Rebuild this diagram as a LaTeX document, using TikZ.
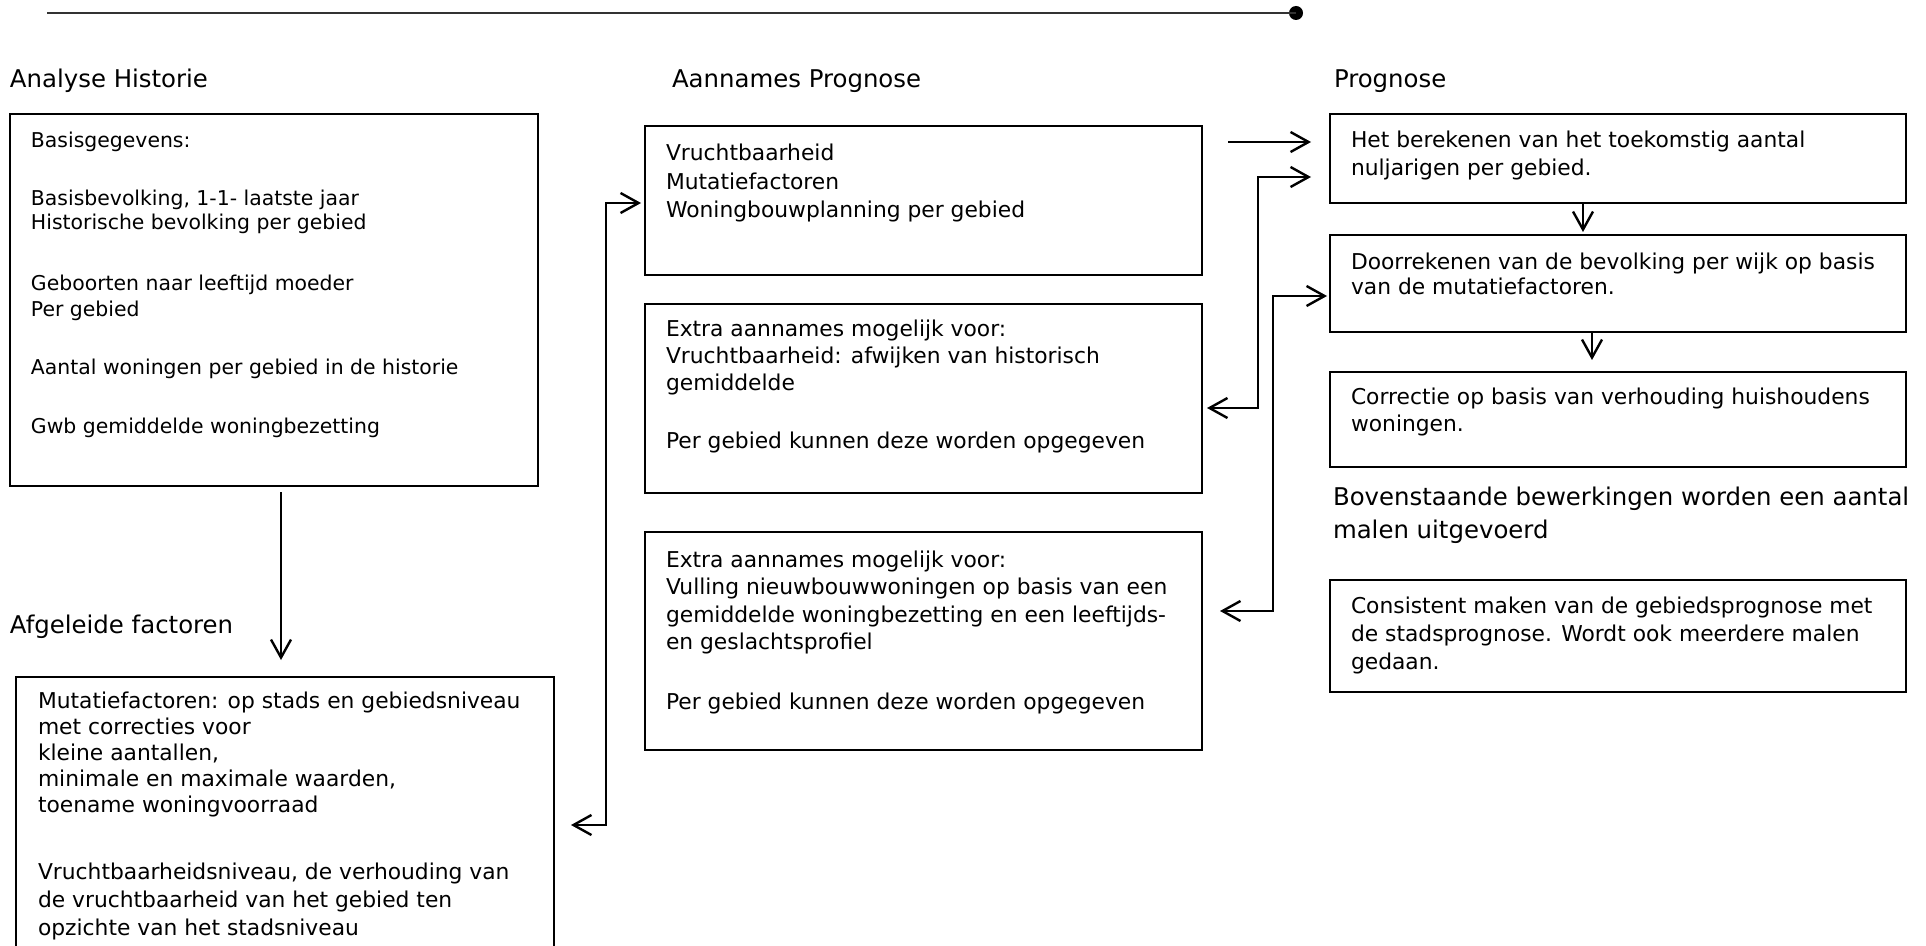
\documentclass[tikz,border=0pt]{standalone}
\usepackage{fontspec}
\setmainfont{DejaVu Sans}
\usetikzlibrary{arrows.meta}
\tikzset{
  boxst/.style={draw, line width=1pt, anchor=north west, inner sep=0pt, outer sep=0pt},
  txt/.style={anchor=north west, inner sep=0pt, outer sep=0pt, align=left, font=\fontsize{10.9pt}{#1}\selectfont},
  smalltxt/.style={anchor=north west, inner sep=0pt, outer sep=0pt, align=left, font=\fontsize{10.2pt}{#1}\selectfont},
  title/.style={anchor=base west, inner sep=0pt, outer sep=0pt, font=\fontsize{12.2pt}{14pt}\selectfont},
  bigtxt/.style={anchor=north west, inner sep=0pt, outer sep=0pt, align=left, font=\fontsize{12.2pt}{16.5pt}\selectfont},
  arr/.style={line width=1.2pt, -{Straight Barb[length=9pt,width=10pt]}},
  arrboth/.style={line width=1.2pt, {Straight Barb[length=9pt,width=10pt]}-{Straight Barb[length=9pt,width=10pt]}},
  enddot/.style={circle, fill=black, inner sep=0pt, minimum size=7pt},
}
\begin{document}
\begin{tikzpicture}[x=0.5pt,y=-0.5pt]
\useasboundingbox (0,0) rectangle (1926,946);
\clip (0,0) rectangle (1926,946);

% top line
\coordinate (tl0) at (47,13);
\node[enddot] (tl1) at (1296,13) {};
\draw[line width=0.8pt, black!80] (tl0) -- (tl1.center);

% titles
\node[title] (h1) at (10,88) {Analyse Historie};
\node[title] (h2) at (672,88) {Aannames Prognose};
\node[title] (h3) at (1334,88) {Prognose};
\node[title] (h4) at (10,633) {Afgeleide factoren};

% boxes
\node[boxst, minimum width=264pt, minimum height=186pt] (b1) at (10,114) {};
\node[boxst, minimum width=269pt, minimum height=165pt] (b4) at (16,677) {};
\node[boxst, minimum width=278.5pt, minimum height=74.5pt] (b2) at (645,126) {};
\node[boxst, minimum width=278.5pt, minimum height=94.5pt] (b3) at (645,304) {};
\node[boxst, minimum width=278.5pt, minimum height=109pt] (b5) at (645,532) {};
\node[boxst, minimum width=288pt, minimum height=44.5pt] (b6) at (1330,114) {};
\node[boxst, minimum width=288pt, minimum height=48.5pt] (b7) at (1330,235) {};
\node[boxst, minimum width=288pt, minimum height=47.5pt] (b8) at (1330,372) {};
\node[boxst, minimum width=288pt, minimum height=56pt] (b9) at (1330,580) {};

% texts
\node[smalltxt=12.5pt] (t1) at (31,130) {\rule{0pt}{9pt}Basisgegevens:\\[16pt]Basisbevolking, 1-1- laatste jaar\\Historische bevolking per gebied\\[18pt]Geboorten naar leeftijd moeder\\Per gebied\\[17pt]Aantal woningen per gebied in de historie\\[16.5pt]Gwb gemiddelde woningbezetting};
\node[txt=13pt] (t4) at (38,690) {\rule{0pt}{9pt}Mutatiefactoren: op stads en gebiedsniveau\\met correcties voor\\kleine aantallen,\\minimale en maximale waarden,\\toename woningvoorraad\\[20.5pt]Vruchtbaarheidsniveau, de verhouding van\\[1.2pt]de vruchtbaarheid van het gebied ten\\[1.2pt]opzichte van het stadsniveau};
\node[txt=14.25pt] (t2) at (666,143) {\rule{0pt}{9pt}Vruchtbaarheid\\Mutatiefactoren\\Woningbouwplanning per gebied};
\node[txt=13.75pt] (t3) at (666,318) {\rule{0pt}{9pt}Extra aannames mogelijk voor:\\Vruchtbaarheid: afwijken van historisch\\gemiddelde\\[15pt]Per gebied kunnen deze worden opgegeven};
\node[txt=13.75pt] (t5) at (666,549) {\rule{0pt}{9pt}Extra aannames mogelijk voor:\\Vulling nieuwbouwwoningen op basis van een\\gemiddelde woningbezetting en een leeftijds-\\en geslachtsprofiel\\[16pt]Per gebied kunnen deze worden opgegeven};
\node[txt=14pt] (t6) at (1351,130) {\rule{0pt}{9pt}Het berekenen van het toekomstig aantal\\nuljarigen per gebied.};
\node[txt=12.5pt] (t7) at (1351,252) {\rule{0pt}{9pt}Doorrekenen van de bevolking per wijk op basis\\van de mutatiefactoren.};
\node[txt=13.5pt] (t8) at (1351,386) {\rule{0pt}{9pt}Correctie op basis van verhouding huishoudens\\woningen.};
\node[bigtxt] (t10) at (1333,483) {\rule{0pt}{11pt}Bovenstaande bewerkingen worden een aantal\\malen uitgevoerd};
\node[txt=14pt] (t9) at (1351,595) {\rule{0pt}{9pt}Consistent maken van de gebiedsprognose met\\de stadsprognose. Wordt ook meerdere malen\\gedaan.};

% connectors
\coordinate (a1s) at (281,492);
\coordinate (a1e) at (281,660);
\draw[arr] (a1s) -- (a1e);

\coordinate (c1a) at (571,825);
\coordinate (c1b) at (641,203);
\draw[arrboth] (c1a) -- (606,825) |- (c1b);

\coordinate (a2s) at (1228,142);
\coordinate (a2e) at (1311,142);
\draw[arr] (a2s) -- (a2e);

\coordinate (c2a) at (1207,408);
\coordinate (c2b) at (1311,177);
\draw[arrboth] (c2a) -- (1258,408) |- (c2b);

\coordinate (c3a) at (1220,611);
\coordinate (c3b) at (1327,296);
\draw[arrboth] (c3a) -- (1273,611) |- (c3b);

\coordinate (a3e) at (1583,232);
\draw[arr] (b6.south -| a3e) -- (a3e);
\coordinate (a4e) at (1592,360);
\draw[arr] (b7.south -| a4e) -- (a4e);
\end{tikzpicture}
\end{document}
